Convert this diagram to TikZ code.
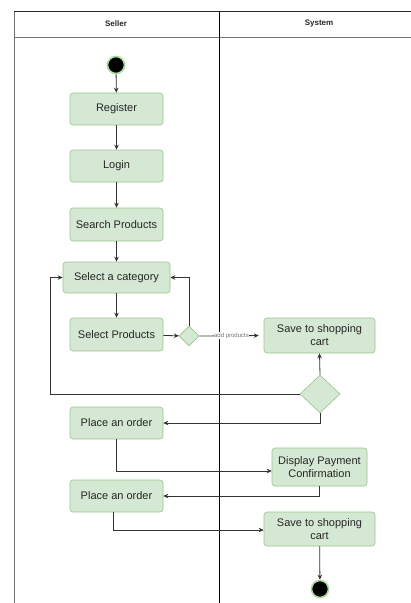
\documentclass[tikz,border=0pt]{standalone}
\usepackage{fontspec}
\setmainfont{Liberation Sans}
\usetikzlibrary{shapes.geometric,arrows.meta}
\definecolor{actfill}{HTML}{D5E8D4}
\definecolor{actline}{HTML}{9AC48A}
\definecolor{flow}{HTML}{333333}
\definecolor{glow}{HTML}{A8D89A}
\tikzset{
  activity/.style={draw=actline, fill=actfill, rounded corners=3pt, line width=0.6pt,
    minimum width=93pt, minimum height=32pt, inner sep=2pt, align=center,
    text=black!85, font=\fontsize{11}{13}\selectfont},
  decision/.style={draw=actline, fill=actfill, diamond, inner sep=0pt, line width=0.6pt},
  flowline/.style={draw=flow, line width=0.8pt, -{Stealth[length=5pt,width=4.5pt]}},
  lanehead/.style={font=\fontsize{8}{10}\selectfont\bfseries, text=black!85},
  terminal/.style={circle, fill=black, draw=glow, line width=1.6pt, minimum size=17pt, inner sep=0pt},
}
\begin{document}
\begin{tikzpicture}[x=1pt, y=-1pt]
\useasboundingbox (0,0) rectangle (411,603);
% swimlane frame
\draw[black!55, line width=1pt] (14,11) -- (14,603);
\draw[black!85, line width=0.8pt] (14,11) -- (411,11);
\draw[black!55, line width=1pt] (14,37) -- (411,37);
\draw[black, line width=0.7pt] (219,11) -- (219,603);
\node[lanehead] (hseller) at (116,24) {Seller};
\node[lanehead] (hsystem) at (319,24) {System};

% seller lane
\node[terminal] (start) at (116,65) {};
\node[activity] (register) at (116.5,109) {Register};
\node[activity] (login) at (116.5,166) {Login};
\node[activity, minimum height=33pt] (search) at (116.5,224.5) {Search Products};
\node[activity, minimum width=107pt, minimum height=31pt] (category) at (116.5,277.5) {Select a category};
\node[activity, minimum height=33pt] (selprod) at (116.5,334.5) {Select Products};
\node[decision, minimum width=20pt, minimum height=20pt] (pick) at (189,336) {};
\node[activity] (order1) at (116.5,423) {Place an order};
\node[activity] (order2) at (116.5,496) {Place an order};

% system lane
\node[activity, minimum width=111pt, minimum height=35pt] (save1) at (319.5,335.5) {Save to shopping\\cart};
\node[decision, minimum width=40pt, minimum height=38pt] (more) at (320,394) {};
\node[activity, minimum width=95pt, minimum height=38pt] (payment) at (319.5,467) {Display Payment\\Confirmation};
\node[activity, minimum width=111pt, minimum height=34pt] (save2) at (319.5,529) {Save to shopping\\cart};
\node[terminal] (finish) at (320,589) {};

\coordinate (loop) at (50,394);

% control flow
\draw[flowline] (start) -- (register);
\draw[flowline] (register) -- (login);
\draw[flowline] (login) -- (search);
\draw[flowline] (search) -- (category);
\draw[flowline] (category) -- (selprod);
\draw[flowline] (selprod) -- (pick);
\draw[flowline] (pick.north) |- (category.east);
\draw[flowline, shorten >=5pt] (pick.east) -- node[fill=white, inner sep=0.5pt, text=black!55, font=\fontsize{6}{7}\selectfont] (addlbl) {add products} (save1.west);
\draw[flowline] (more.north) -- (save1.south);
\draw[flowline] (more.west) -- (loop) |- (category.west);
\draw[flowline] (more.south) |- (order1.east);
\draw[flowline] (order1.south) |- ([yshift=-4pt]payment.west);
\draw[flowline] (payment.south) |- (order2.east);
\draw[flowline] ([xshift=-3pt]order2.south) |- ([yshift=-1pt]save2.west);
\draw[flowline] (save2) -- (finish);
\end{tikzpicture}
\end{document}
